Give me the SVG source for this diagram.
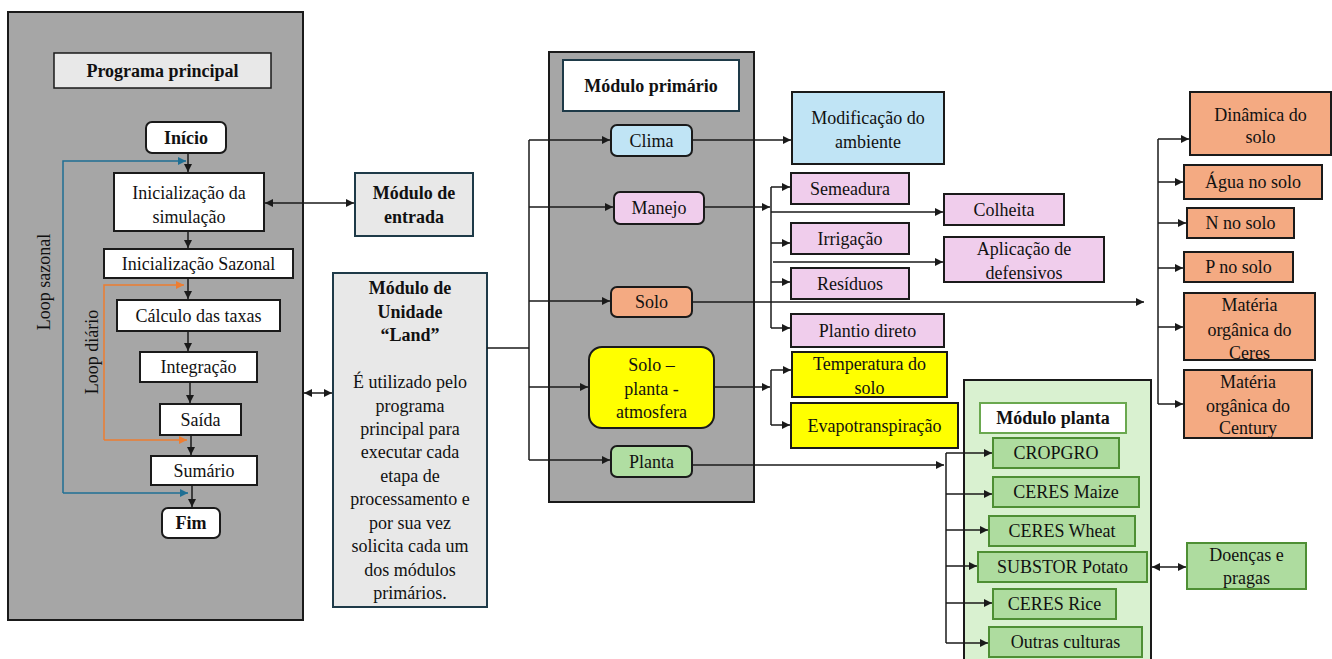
<svg xmlns="http://www.w3.org/2000/svg" width="1332" height="659" viewBox="0 0 1332 659">
<style>
text{font-family:'Liberation Serif','Times New Roman',serif;font-size:18px;fill:#111;text-anchor:middle}
.b{font-weight:bold}
.panel{fill:#a6a6a6;stroke:#1a1a1a;stroke-width:2}
.w{fill:#fff;stroke:#1a1a1a;stroke-width:2}
.lg{fill:#e8e8e8;stroke:#1e3a48;stroke-width:2}
.blue{fill:#c0e4f5;stroke:#1a1a1a;stroke-width:2}
.pink{fill:#f0cdec;stroke:#1a1a1a;stroke-width:2}
.org{fill:#f4aa82;stroke:#1a1a1a;stroke-width:2}
.yel{fill:#ffff00;stroke:#1a1a1a;stroke-width:2}
.grn{fill:#b0dea2;stroke:#1a1a1a;stroke-width:2}
.gb{fill:#aedc9f;stroke:#4e8f34;stroke-width:2}
.c{fill:none;stroke:#1a1a1a;stroke-width:1.5}
.cb{fill:none;stroke:#1f6f94;stroke-width:1.5}
.co{fill:none;stroke:#ed7d31;stroke-width:1.5}
</style>
<defs>
<marker id="ah" markerUnits="userSpaceOnUse" markerWidth="9" markerHeight="8" refX="8" refY="4" orient="auto-start-reverse"><path d="M0,0 L8,4 L0,8 z" fill="#1a1a1a"/></marker>
<marker id="ahb" markerUnits="userSpaceOnUse" markerWidth="9" markerHeight="8" refX="8" refY="4" orient="auto"><path d="M0,0 L8,4 L0,8 z" fill="#1f6f94"/></marker>
<marker id="aho" markerUnits="userSpaceOnUse" markerWidth="9" markerHeight="8" refX="8" refY="4" orient="auto"><path d="M0,0 L8,4 L0,8 z" fill="#ed7d31"/></marker>
</defs>

<g id="programa-principal">
<rect class="panel" x="8" y="12" width="295" height="608"/>
<rect x="54" y="53" width="217" height="35" fill="#e8e8e8" stroke="#1a1a1a" stroke-width="1.5"/>
<text class="b" x="162.5" y="77">Programa principal</text>
</g>
<g id="inicio"><rect class="w" x="146" y="122" width="80" height="31" rx="6"/><text class="b" x="186" y="144">Início</text></g>
<g id="init-sim"><rect class="w" x="114" y="173" width="150" height="58"/><text x="189" y="199">Inicialização da</text><text x="189" y="223">simulação</text></g>
<g id="init-saz"><rect class="w" x="104" y="249" width="189" height="29"/><text x="198.5" y="270">Inicialização Sazonal</text></g>
<g id="calculo"><rect class="w" x="117" y="300" width="163" height="31"/><text x="198.5" y="322">Cálculo das taxas</text></g>
<g id="integracao"><rect class="w" x="140" y="352" width="117" height="30"/><text x="198.5" y="373">Integração</text></g>
<g id="saida"><rect class="w" x="160" y="404" width="81" height="31"/><text x="200.5" y="426">Saída</text></g>
<g id="sumario"><rect class="w" x="151" y="456" width="106" height="29"/><text x="204" y="477">Sumário</text></g>
<g id="fim"><rect class="w" x="162" y="508" width="58" height="30" rx="6"/><text class="b" x="191" y="529">Fim</text></g>
<g id="loop-labels">
<text transform="translate(50,282) rotate(-90)">Loop sazonal</text>
<text transform="translate(98,352) rotate(-90)">Loop diário</text>
</g>

<g id="modulo-entrada"><rect class="lg" x="355" y="173" width="118" height="63"/><text class="b" x="414" y="199">Módulo de</text><text class="b" x="414" y="223">entrada</text></g>
<g id="modulo-land"><rect class="lg" x="333" y="273" width="154" height="334"/>
<text class="b" x="410" y="294">Módulo de</text><text class="b" x="410" y="318">Unidade</text><text class="b" x="410" y="341">“Land”</text>
<text x="410" y="388">É utilizado pelo</text><text x="410" y="411.5">programa</text><text x="410" y="435">principal para</text><text x="410" y="458">executar cada</text><text x="410" y="481.5">etapa de</text><text x="410" y="505">processamento e</text><text x="410" y="528.5">por sua vez</text><text x="410" y="552">solicita cada um</text><text x="410" y="575.5">dos módulos</text><text x="410" y="599">primários.</text>
</g>

<g id="modulo-primario">
<rect class="panel" x="549" y="52" width="205" height="450"/>
<rect x="563" y="60" width="176" height="51" fill="#fff" stroke="#1e3a48" stroke-width="2"/>
<text class="b" x="651" y="92">Módulo primário</text>
</g>
<g id="clima"><rect class="blue" x="611" y="125" width="81" height="31" rx="6"/><text x="651.5" y="147">Clima</text></g>
<g id="manejo"><rect class="pink" x="614" y="192" width="90" height="32" rx="6"/><text x="659" y="214">Manejo</text></g>
<g id="solo"><rect class="org" x="611" y="287" width="81" height="30" rx="6"/><text x="651.5" y="308">Solo</text></g>
<g id="spa"><rect class="yel" x="589" y="347" width="125" height="81" rx="13"/><text x="651.5" y="371">Solo –</text><text x="651.5" y="395">planta -</text><text x="651.5" y="418">atmosfera</text></g>
<g id="planta"><rect class="grn" x="611" y="446" width="81" height="31" rx="6"/><text x="651.5" y="468">Planta</text></g>

<g id="modificacao"><rect class="blue" x="792" y="92" width="152" height="72"/><text x="868" y="124">Modificação do</text><text x="868" y="148">ambiente</text></g>
<g id="semeadura"><rect class="pink" x="791" y="173" width="118" height="31"/><text x="850" y="195">Semeadura</text></g>
<g id="colheita"><rect class="pink" x="944" y="194" width="120" height="31"/><text x="1004" y="216">Colheita</text></g>
<g id="irrigacao"><rect class="pink" x="791" y="223" width="118" height="31"/><text x="850" y="245">Irrigação</text></g>
<g id="aplicacao"><rect class="pink" x="944" y="237" width="160" height="45"/><text x="1024" y="255">Aplicação de</text><text x="1024" y="279">defensivos</text></g>
<g id="residuos"><rect class="pink" x="791" y="268" width="118" height="31"/><text x="850" y="290">Resíduos</text></g>
<g id="plantio"><rect class="pink" x="791" y="314" width="153" height="33"/><text x="867.5" y="337">Plantio direto</text></g>
<g id="temperatura"><rect class="yel" x="792" y="352" width="155" height="45"/><text x="869.5" y="370">Temperatura do</text><text x="869.5" y="394">solo</text></g>
<g id="evapo"><rect class="yel" x="791" y="403" width="167" height="45"/><text x="874.5" y="432">Evapotranspiração</text></g>

<g id="dinamica"><rect class="org" x="1190" y="92" width="141" height="63"/><text x="1260.5" y="121">Dinâmica do</text><text x="1260.5" y="143">solo</text></g>
<g id="agua"><rect class="org" x="1184" y="165" width="138" height="34"/><text x="1253" y="188">Água no solo</text></g>
<g id="n-solo"><rect class="org" x="1187" y="208" width="107" height="30"/><text x="1240.5" y="229">N no solo</text></g>
<g id="p-solo"><rect class="org" x="1184" y="252" width="109" height="30"/><text x="1238.5" y="273">P no solo</text></g>
<g id="mo-ceres"><rect class="org" x="1184" y="293" width="131" height="67"/><text x="1249.5" y="311">Matéria</text><text x="1249.5" y="336">orgânica do</text><text x="1249.5" y="359">Ceres</text></g>
<g id="mo-century"><rect class="org" x="1184" y="370" width="128" height="68"/><text x="1248" y="388">Matéria</text><text x="1248" y="412">orgânica do</text><text x="1248" y="434">Century</text></g>

<g id="modulo-planta">
<rect x="964" y="380" width="187" height="290" fill="#d9f1d0" stroke="#1a1a1a" stroke-width="2"/>
<rect x="980" y="403" width="146" height="30" fill="#fff" stroke="#6aa84f" stroke-width="2"/>
<text class="b" x="1053" y="424">Módulo planta</text>
</g>
<g id="cropgro"><rect class="gb" x="993" y="438" width="126" height="30"/><text x="1056" y="459">CROPGRO</text></g>
<g id="ceres-maize"><rect class="gb" x="993" y="477" width="146" height="30"/><text x="1066" y="498">CERES Maize</text></g>
<g id="ceres-wheat"><rect class="gb" x="989" y="516" width="146" height="30"/><text x="1062" y="537">CERES Wheat</text></g>
<g id="substor"><rect class="gb" x="978" y="552" width="169" height="30"/><text x="1062.5" y="573">SUBSTOR Potato</text></g>
<g id="ceres-rice"><rect class="gb" x="993" y="589" width="123" height="30"/><text x="1054.5" y="610">CERES Rice</text></g>
<g id="outras"><rect class="gb" x="989" y="627" width="153" height="30"/><text x="1065.5" y="648">Outras culturas</text></g>
<g id="doencas"><rect class="gb" x="1187" y="543" width="119" height="46"/><text x="1246.5" y="561">Doenças e</text><text x="1246.5" y="584">pragas</text></g>

<g id="connectors">
<path class="c" d="M188,153 V172" marker-end="url(#ah)"/>
<path class="c" d="M188,232 V248" marker-end="url(#ah)"/>
<path class="c" d="M188,279 V299" marker-end="url(#ah)"/>
<path class="c" d="M188,331 V351" marker-end="url(#ah)"/>
<path class="c" d="M190,382 V403" marker-end="url(#ah)"/>
<path class="c" d="M191,435 V455" marker-end="url(#ah)"/>
<path class="c" d="M192,485 V507" marker-end="url(#ah)"/>
<path class="cb" d="M63,493 V161 H186" marker-end="url(#ahb)"/>
<path class="cb" d="M63,493 H188" marker-end="url(#ahb)"/>
<path class="co" d="M104,440 V285 H184" marker-end="url(#aho)"/>
<path class="co" d="M104,440 H187" marker-end="url(#aho)"/>
<path class="c" d="M265,203 H354" marker-start="url(#ah)" marker-end="url(#ah)"/>
<path class="c" d="M304,393 H332" marker-start="url(#ah)" marker-end="url(#ah)"/>
<path class="c" d="M487,348 H529"/>
<path class="c" d="M529,140 V460"/>
<path class="c" d="M529,140 H610" marker-end="url(#ah)"/>
<path class="c" d="M529,207 H613" marker-end="url(#ah)"/>
<path class="c" d="M529,301 H610" marker-end="url(#ah)"/>
<path class="c" d="M529,387 H588" marker-end="url(#ah)"/>
<path class="c" d="M529,460 H610" marker-end="url(#ah)"/>
<path class="c" d="M692,140 H791" marker-end="url(#ah)"/>
<path class="c" d="M704,207 H770" marker-end="url(#ah)"/>
<path class="c" d="M771,187 V328"/>
<path class="c" d="M771,187 H790" marker-end="url(#ah)"/>
<path class="c" d="M771,212 H943" marker-end="url(#ah)"/>
<path class="c" d="M771,243 H790" marker-end="url(#ah)"/>
<path class="c" d="M773,262 H943" marker-end="url(#ah)"/>
<path class="c" d="M771,282 H790" marker-end="url(#ah)"/>
<path class="c" d="M771,328 H790" marker-end="url(#ah)"/>
<path class="c" d="M692,302 H1144" marker-end="url(#ah)"/>
<path class="c" d="M714,387 H770" marker-end="url(#ah)"/>
<path class="c" d="M771,370 V425"/>
<path class="c" d="M771,370 H791" marker-end="url(#ah)"/>
<path class="c" d="M771,425 H790" marker-end="url(#ah)"/>
<path class="c" d="M692,465 H944" marker-end="url(#ah)"/>
<path class="c" d="M946,453 V643"/>
<path class="c" d="M946,453 H992" marker-end="url(#ah)"/>
<path class="c" d="M946,494 H992" marker-end="url(#ah)"/>
<path class="c" d="M946,530 H988" marker-end="url(#ah)"/>
<path class="c" d="M946,566 H977" marker-end="url(#ah)"/>
<path class="c" d="M946,603 H992" marker-end="url(#ah)"/>
<path class="c" d="M946,643 H988" marker-end="url(#ah)"/>
<path class="c" d="M1152,567 H1186" marker-start="url(#ah)" marker-end="url(#ah)"/>
<path class="c" d="M1158,139 V404"/>
<path class="c" d="M1158,139 H1189" marker-end="url(#ah)"/>
<path class="c" d="M1158,182 H1183" marker-end="url(#ah)"/>
<path class="c" d="M1158,223 H1186" marker-end="url(#ah)"/>
<path class="c" d="M1158,268 H1183" marker-end="url(#ah)"/>
<path class="c" d="M1158,327 H1183" marker-end="url(#ah)"/>
<path class="c" d="M1158,404 H1183" marker-end="url(#ah)"/>
</g>
</svg>
